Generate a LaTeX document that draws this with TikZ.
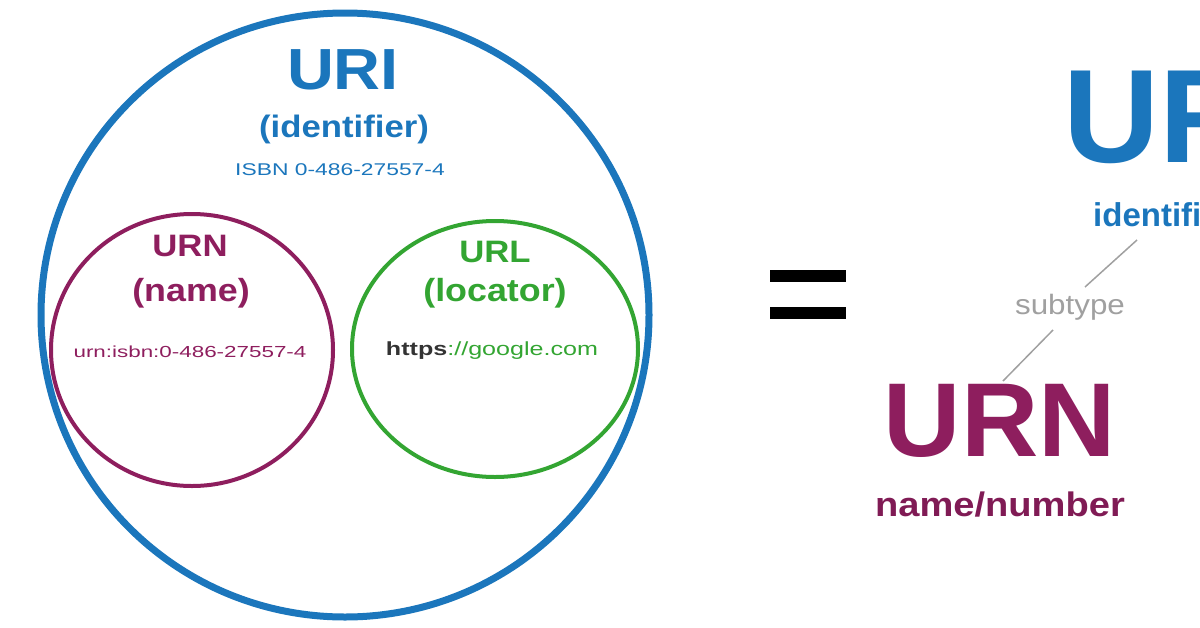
\documentclass[tikz,border=0pt]{standalone}
\usepackage{fontspec}
\setmainfont{Liberation Sans}
\definecolor{uriblue}{HTML}{1B76BC}
\definecolor{urnpurple}{HTML}{8E1E5E}
\definecolor{urlgreen}{HTML}{33A532}
\definecolor{subgrey}{HTML}{A0A0A0}
\begin{document}
\begin{tikzpicture}[x=1pt,y=-1pt,
  t/.style={inner sep=0pt,align=center,xscale=1.12},
  fs/.style={font=\fontsize{#1}{#1}\selectfont}]
\useasboundingbox (0,0) rectangle (1200,627);
\clip (0,0) rectangle (1200,627);
% circles
\draw[uriblue,line width=7pt] (345,315) ellipse [x radius=304,y radius=302];
\draw[urnpurple,line width=4pt] (192,350) ellipse [x radius=141,y radius=136];
\draw[urlgreen,line width=4pt] (495,349) ellipse [x radius=143,y radius=128];
% texts left
\node[t,fs=58,text=uriblue] (uri) at (343,70) {\bfseries URI};
\node[t,fs=31,text=uriblue] (ident) at (344,129) {\bfseries (identifier)};
\node[t,fs=17,text=uriblue,xscale=1.2] (isbn) at (340,170) {ISBN 0-486-27557-4};
\node[t,fs=31,text=urnpurple] (urn) at (190,246) {\bfseries URN};
\node[t,fs=32,text=urnpurple] (name) at (191,293) {\bfseries (name)};
\node[t,fs=16,text=urnpurple,xscale=1.25] (urnisbn) at (190,352) {urn:isbn:0-486-27557-4};
\node[t,fs=31,text=urlgreen] (url) at (495,252) {\bfseries URL};
\node[t,fs=32,text=urlgreen] (loc) at (495,293) {\bfseries (locator)};
\node[t,fs=19,text=urlgreen,xscale=1.18] (https) at (492,351) {\textbf{\color{black!80}https}://google.com};
% equals
\fill (770,270) rectangle (846,282);
\fill (770,307) rectangle (846,319);
% right side
\node[inner sep=0pt,fs=133,text=uriblue,anchor=west] (buri) at (1063,117) {\bfseries URI};
\node[inner sep=0pt,fs=33,text=uriblue,anchor=west] (bident) at (1093,215) {\bfseries identifier};
\node[t,fs=28,text=subgrey] (sub) at (1070,307) {subtype};
\node[inner sep=0pt,fs=105,text=urnpurple,xscale=1.02] (burn) at (1000,421) {\bfseries URN};
\node[t,fs=34,text=urnpurple!90!black] (nn) at (1000,505) {\bfseries name/number};
\coordinate (a1) at (1137,240);
\coordinate (a2) at (1085,287);
\coordinate (b1) at (1053,330);
\coordinate (b2) at (1003,381);
\draw[subgrey,line width=1.5pt] (a1) -- (a2);
\draw[subgrey,line width=1.5pt] (b1) -- (b2);
\end{tikzpicture}
\end{document}
